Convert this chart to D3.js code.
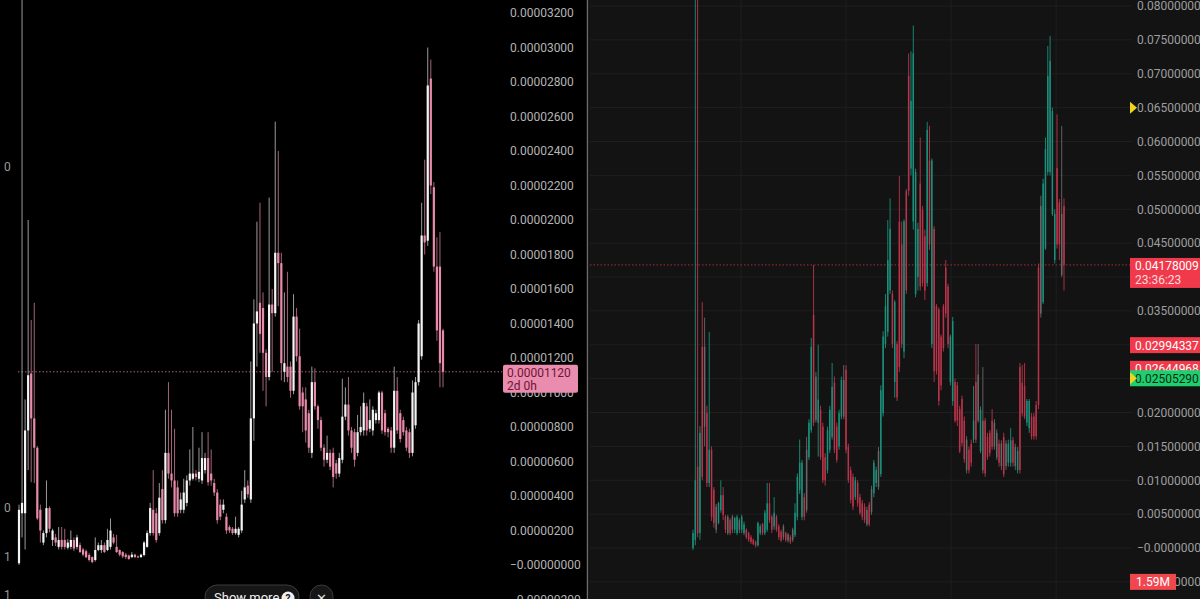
<!DOCTYPE html>
<html><head><meta charset="utf-8">
<script src="https://cdn.jsdelivr.net/npm/d3@7/dist/d3.min.js"></script>
<style>html,body{margin:0;padding:0;background:#000;overflow:hidden}svg{display:block}</style>
</head><body><svg id="c" width="1200" height="599"></svg>
<script>
// ---------- LEFT PANEL (prices in units of 1e-6) ----------
const leftTickValues = [32,30,28,26,24,22,20,18,16,14,12,10,8,6,4,2,0,-2];
const leftTickLabels = ["0.00003200","0.00003000","0.00002800","0.00002600","0.00002400","0.00002200","0.00002000","0.00001800","0.00001600","0.00001400","0.00001200","0.00001000","0.00000800","0.00000600","0.00000400","0.00000200","\u22120.00000000","\u22120.00000200"];
// [open, high, low, close]
const leftOHLC = [
[0.1,3.5,0.0,3.2],[3.0,40,1.6,3.6],[3.0,9.6,0.9,7.8],[7.8,20.0,5.5,11.0],[11.1,14.2,4.8,8.5],
[8.5,15.2,4.75,6.8],[6.8,6.9,2.6,2.7],[3.2,3.5,1.3,2.0],[1.3,2.0,1.15,1.85],[1.85,4.9,1.6,3.3],
[3.3,3.4,1.9,2.1],[1.45,2.1,1.1,2.0],[1.6,1.8,1.1,1.3],[1.05,2.2,0.9,1.45],[1.45,2.2,0.9,1.05],
[1.45,2.1,0.9,1.05],[1.0,1.5,0.9,1.3],[1.05,2.0,0.9,1.45],[1.45,1.6,0.8,0.95],[1.05,1.75,0.9,1.6],
[1.15,1.3,0.7,0.75],[0.9,1.0,0.5,0.6],[0.8,0.9,0.4,0.45],[0.58,0.7,0.2,0.29],[0.46,0.5,0.1,0.17],
[0.29,1.6,0.2,0.87],[0.87,1.3,0.8,1.15],[0.87,1.45,0.7,1.15],[1.15,1.3,0.7,0.75],[0.87,2.1,0.8,1.45],
[1.05,2.7,0.9,2.0],[1.6,1.8,1.2,1.3],[1.05,1.75,0.7,0.75],[0.87,0.9,0.5,0.6],[0.75,0.8,0.4,0.5],
[0.6,0.7,0.35,0.46],[0.55,0.6,0.3,0.35],[0.46,0.75,0.4,0.6],[0.6,0.65,0.4,0.46],[0.5,0.55,0.4,0.44],
[0.46,0.65,0.4,0.6],[0.58,1.4,0.5,1.3],[1.05,2.0,1.0,1.85],[1.85,3.6,1.7,3.3],[3.2,5.5,1.7,1.85],
[3.0,3.3,1.3,1.45],[1.85,4.75,1.7,3.9],[4.4,5.5,2.4,2.6],[2.6,9.0,2.4,6.5],[6.5,10.6,5.0,5.3],
[5.3,9.0,4.5,4.9],[4.9,7.9,2.8,3.0],[4.5,4.9,2.8,3.0],[3.2,4.2,3.0,3.8],[3.2,5.0,3.0,4.2],
[3.6,5.2,3.4,4.9],[4.9,6.7,4.6,5.3],[5.0,8.0,4.9,5.3],[5.3,5.5,4.9,5.1],[5.0,6.8,4.8,5.4],
[4.9,7.7,4.7,6.2],[5.5,6.5,5.3,6.2],[6.2,7.7,4.6,4.8],[5.3,6.7,4.6,4.9],[4.75,5.0,4.0,4.2],
[4.2,4.4,2.4,2.6],[3.5,3.8,2.6,2.8],[3.2,3.8,3.0,3.5],[2.8,3.0,1.8,2.0],[2.2,2.3,1.85,2.0],
[2.1,2.2,1.75,1.85],[1.85,2.8,1.75,2.1],[1.75,2.2,1.6,2.1],[2.0,4.3,1.85,3.5],[3.8,5.5,3.6,4.5],
[4.6,4.9,3.9,4.1],[3.8,11.8,3.6,8.5],[8.5,15.4,7.2,14.0],[14.0,19.9,11.5,14.7],[15.2,21.0,12.3,13.4],
[14.9,15.8,10.1,12.3],[12.3,12.5,9.2,10.9],[10.9,21.3,10.7,15.1],[15.1,16.0,11.2,14.6],[14.6,25.7,14.4,18.1],
[18.1,24.0,15.0,17.5],[17.5,18.1,10.7,11.7],[11.2,15.8,10.6,11.7],[11.5,17.0,10.6,10.9],[11.5,11.8,9.7,10.1],
[10.1,15.7,9.9,14.4],[14.4,14.9,11.8,12.1],[12.1,13.7,9.0,9.2],[10.0,10.3,7.7,9.2],[9.6,10.3,7.1,7.8],
[8.8,9.0,6.5,6.8],[6.5,11.5,6.2,10.6],[10.6,11.4,9.0,9.2],[9.2,9.3,7.9,8.4],[8.4,8.6,6.6,6.8],
[6.8,7.0,5.7,6.1],[6.1,7.5,5.9,6.5],[6.5,6.7,5.5,5.7],[6.5,6.8,4.5,5.1],[5.9,6.1,5.0,5.3],
[5.3,6.5,5.1,6.2],[6.1,10.8,5.9,8.6],[8.6,10.3,8.4,9.3],[9.3,10.9,7.5,7.8],[7.8,8.0,6.5,6.8],
[7.7,7.9,5.7,6.1],[6.5,8.7,6.3,7.7],[7.7,9.2,7.5,8.0],[7.8,10.0,7.5,9.4],[9.2,9.4,7.5,7.8],
[7.9,9.6,7.7,8.4],[7.8,9.2,7.5,9.0],[8.4,9.0,8.2,8.8],[8.4,10.1,8.2,10.0],[10.0,10.1,7.6,7.8],
[8.8,9.0,7.5,7.7],[7.9,8.0,7.4,7.7],[7.8,8.0,6.5,6.8],[6.8,11.5,6.5,10.1],[10.1,10.9,7.6,7.8],
[8.8,9.0,7.1,7.3],[8.4,8.6,7.5,7.7],[7.8,8.0,6.6,6.8],[7.7,7.9,6.2,6.5],[6.5,10.7,6.3,10.0],
[8.1,10.9,7.9,10.6],[10.6,14.2,10.4,14.0],[12.1,21.0,11.9,19.1],[19.1,23.5,18.0,18.7],[18.8,30.0,18.5,27.8],
[28.2,29.3,21.5,22.0],[21.9,22.2,17.0,17.3],[17.3,19.0,13.0,13.6],[17.3,19.3,10.3,11.7],[13.6,13.7,10.3,11.2]
];
const leftLastPrice = 11.2;
const leftLastLabel = ["0.00001120","2d 0h"];
const leftEdgeLabels = [{t:"0",v:23.1},{t:"0",v:3.3},{t:"1",v:0.5},{t:"1",v:-1.7}];

// ---------- RIGHT PANEL (prices in units of 1e-3) ----------
const rightTickValues = [80,75,70,65,60,55,50,45,40,35,30,25,20,15,10,5,0,-5];
const rightTickLabels = ["0.08000000","0.07500000","0.07000000","0.06500000","0.06000000","0.05500000","0.05000000","0.04500000","0.04000000","0.03500000","0.03000000","0.02500000","0.02000000","0.01500000","0.01000000","0.00500000","\u22120.00000000","\u22120.00500000"];
// tone: g = up (green), r = down (red), n = neutral (grey)
const rightTone = "ggrgrnrgrrnggrrnrnggnggrrrrrggrggrrgrrrnrnrnggggrnggrngrrrgggrrggnrrrrgrrrrnrnggngggggrgrrrgrrggggrrrgrgrrrrrrrggrrrrrnrrgrngnrrrrnnrnrnggrngrrrggrrrrnggggggrrnrnrr";
const rightOHLC = [
[0.0,2.7,-0.3,2.2],[1.2,95,0.4,10.0],[12,95,1.6,2.2],[2.2,18,1.2,17.0],[29.7,36.3,10.0,10.5],
[29.7,34,15,17.9],[19.9,21,9.0,9.6],[9.6,31.9,9.0,14.5],[14.5,15,4.0,4.6],[8.6,9.0,3.0,3.7],
[2.7,6.5,2.2,6.1],[3.7,6.8,3.5,6.6],[5.6,10.0,5.2,7.8],[7.8,9.0,4.1,4.9],[4.6,4.9,2.2,2.7],
[4.6,4.9,1.9,2.2],[4.1,4.4,1.9,2.2],[2.7,4.9,2.2,4.6],[2.7,4.6,2.2,4.4],[4.6,4.9,1.9,2.2],
[2.7,4.4,2.2,4.1],[2.7,4.9,2.2,4.6],[2.2,3.9,1.9,3.5],[2.7,2.9,1.3,1.6],[2.2,2.4,0.9,1.2],
[1.6,1.9,0.6,0.9],[1.2,1.4,0.4,0.6],[0.9,1.1,0.1,0.4],[0.4,3.9,0.2,3.7],[2.2,3.5,1.9,3.2],
[3.5,3.7,1.9,2.2],[2.2,5.6,1.9,5.2],[2.7,9.6,2.4,6.6],[6.6,9.6,3.7,4.1],[4.6,4.9,2.2,2.7],
[3.2,7.5,2.7,5.2],[4.6,4.9,2.4,2.7],[3.2,3.5,1.2,1.6],[2.4,2.7,0.9,1.1],[1.6,3.5,1.2,3.2],
[2.2,2.4,0.9,1.2],[2.0,2.2,0.8,1.1],[1.6,1.9,0.6,0.9],[1.2,3.0,0.9,2.7],[1.9,6.6,1.6,5.2],
[4.6,11,4.1,10.5],[8.6,16.0,8.0,12.6],[12.6,13.0,4.1,4.6],[7.5,8.1,4.1,4.6],[5.6,16.4,5.2,14.5],
[13.4,19,13.0,18.5],[17.4,31,17.0,29.7],[34.4,41.8,18.0,18.5],[25.3,26,18.5,18.9],[18.5,30.0,13.5,21.9],
[20.4,21,13.0,13.4],[17.9,18.5,9.6,10.0],[13.4,14,9.2,10.0],[11.5,17.9,11.0,17.4],[14.5,21,14,20.4],
[16.4,27.3,16,23.8],[24.4,25.3,14,14.5],[17.9,18.5,12.6,13.0],[15.0,20.4,14.5,19.9],[19.4,25.3,19,24.8],
[24.8,27.0,19,19.4],[26.3,27.0,14,14.5],[14.9,15.4,9.6,10.0],[11.5,12,6.6,7.1],[10.5,11,5.6,6.1],
[7.5,10.5,7.1,10.0],[9.6,10,6.1,6.6],[7.5,8.0,4.9,5.2],[6.6,7.1,4.1,4.6],[6.1,6.6,3.7,4.1],
[5.6,6.1,3.2,3.5],[3.5,6.8,3.2,6.4],[5.3,9.2,4.9,8.7],[8.1,13.0,7.5,12.6],[11.5,12,9.0,9.6],
[9.0,14.9,8.6,14.3],[10.9,24,10.5,23.3],[19.9,32,19.4,31.2],[30.1,37.5,29.5,35.7],[42.5,48.4,31.2,31.9],
[38.0,51.6,37.5,47.1],[37.5,38.0,29.5,30.1],[36.3,36.6,22.2,24.5],[30.1,30.5,21.7,22.2],[26.7,54.9,26,48.2],
[44.8,48.2,29.5,30.1],[48.2,48.5,28,29.0],[38.0,53,37.5,52.7],[52.7,73.0,52,69.7],[56,73.3,55,66],
[73.0,77.1,47,48.2],[55.5,56,37,37.5],[47.1,48,38,40.0],[38.6,60.6,38,53.8],[49.9,50.5,38.6,39.1],
[38.0,47,36.6,46],[39.1,62.9,38.6,61.7],[57.2,62.3,44,44.8],[57.2,57.5,29.5,30.1],[47.1,47.5,24.5,26.1],
[35.7,36,25.6,26.1],[35.2,35.5,21,21.7],[31.2,31.5,23.3,24.0],[29.5,36,29,35.7],[34.6,42.5,34,41.4],
[38.6,39,29.5,30.1],[31.2,31.5,24,24.5],[33.5,34.1,21,21.7],[24.5,25,18.5,18.8],[24.0,24.5,18,18.8],
[20.5,21,14,14.3],[22.0,22.5,15,15.5],[18.8,19.4,12.6,13.1],[11.5,16.5,11,16.0],[14.5,15,11,11.5],
[12.6,16,12,15.4],[16.0,23.9,15.5,18.8],[16.0,30.1,15.5,24.5],[25.6,30.1,18.5,18.8],[20.4,20.9,14,14.3],
[18.8,26.7,11,11.5],[18.8,19.2,10.5,11.0],[16.4,17,13,13.4],[14.0,17.4,13.5,17.0],[18.8,20.5,14.5,14.9],
[15.0,19,14.5,18.5],[17.0,17.5,13,13.4],[12.6,16,12,15.4],[12.1,15.9,11.5,15.4],[10.9,17,10.5,16.4],
[15.4,15.9,11.5,12.1],[12.6,16,12,15.4],[12.6,17.7,12,15.9],[15.9,16.4,12,12.6],[14.9,15.4,11.5,12.1],
[14.3,14.9,11,11.5],[11.5,27.3,11,26.7],[19.9,27.0,19.4,24.4],[23.9,27.3,19,19.4],[21.7,22,18,18.5],
[21.7,22,17,17.7],[19.4,19.9,16,16.4],[19.4,19.9,16,16.5],[16.5,21.7,16,21.1],[21.1,42,20.5,41.4],
[34.6,52,34,50.5],[36.3,54.5,36,53.8],[44.2,60.6,44,58.9],[55.5,74.1,55,69.7],[71.9,75.6,55,55.5],
[64.5,65,49,49.3],[49.3,50,42,42.5],[56.1,64.0,44.2,44.8],[44.8,51.5,42.5,51.0],[49.3,62.3,40.0,40.3],
[50.5,51.6,38.0,41.78]
];
const rightLastPrice = 41.78;
const rightLastLabel = ["0.04178009","23:36:23"];
const rightMarkerValues = [29.94337, 26.44968, 25.05290];
const rightMarkerLabels = ["0.02994337","0.02644968","0.02505290"];
const rightMarkerTones = ["r","r","g"];
const volumeLabel = "1.59M";
const flagValues = [65, 25.05290];
const timeGridIdx = [20.7, 66, 111.3, 156.6];

// ---------- DRAW ----------
const svg = d3.select("#c");
const FONT = "Roboto, 'Liberation Sans', Arial, sans-serif";

svg.append("rect").attr("x",0).attr("y",0).attr("width",588).attr("height",599).attr("fill","#000");
svg.append("rect").attr("x",589).attr("y",0).attr("width",611).attr("height",599).attr("fill","#131313");
svg.append("line").attr("x1",587.5).attr("x2",587.5).attr("y1",0).attr("y2",599).attr("stroke","#6a6a6a").attr("stroke-width",1.5);

const defs = svg.append("defs");
defs.append("clipPath").attr("id","clipL").append("rect").attr("x",0).attr("y",0).attr("width",500).attr("height",599);
defs.append("clipPath").attr("id","clipR").append("rect").attr("x",590).attr("y",0).attr("width",540).attr("height",599);

// LEFT scales
const yL = d3.scaleLinear().domain([0, 32]).range([565, 13]);
const xL = d3.scaleLinear().domain([0, leftOHLC.length-1]).range([19, 443]);

svg.append("line").attr("x1",18).attr("x2",502).attr("y1",yL(leftLastPrice)).attr("y2",yL(leftLastPrice))
  .attr("stroke","#c8728f").attr("stroke-width",1).attr("stroke-dasharray","1.5,2").attr("opacity",0.85);

const gL = svg.append("g").attr("clip-path","url(#clipL)");
leftOHLC.forEach((d,i)=>{
  const up = d[3] >= d[0];
  const x = xL(i);
  gL.append("line").attr("x1",x).attr("x2",x).attr("y1",yL(d[1])).attr("y2",yL(d[2]))
    .attr("stroke", up ? "#9a9a9a" : "#a4647c").attr("stroke-width",1);
  const top = yL(Math.max(d[0],d[3])), bot = yL(Math.min(d[0],d[3]));
  gL.append("rect").attr("x",x-1.1).attr("width",2.2).attr("y",top).attr("height",Math.max(1,bot-top))
    .attr("fill", up ? "#f4f4f4" : "#e88aa9");
});

const axL = svg.append("g").attr("transform","translate(510,0)")
  .call(d3.axisRight(yL).tickValues(leftTickValues).tickFormat((d,i)=>leftTickLabels[i]).tickSize(0).tickPadding(0));
axL.select(".domain").remove();
axL.selectAll("text").attr("fill","#b4b4b4").style("font-family",FONT).style("font-size","12px");

leftEdgeLabels.forEach(l=>{
  svg.append("text").attr("x",4).attr("y",yL(l.v)).attr("dy","0.35em").attr("fill","#9a9a9a")
    .style("font-family",FONT).style("font-size","12px").text(l.t);
});

{
  const yv = yL(leftLastPrice);
  svg.append("rect").attr("x",503).attr("y",yv-7).attr("width",75).attr("height",28).attr("rx",2).attr("fill","#ea8cad");
  svg.append("text").attr("x",507).attr("y",yv+5).attr("fill","#6d1536").style("font-family",FONT).style("font-size","12px").text(leftLastLabel[0]);
  svg.append("text").attr("x",507).attr("y",yv+18).attr("fill","#6d1536").style("font-family",FONT).style("font-size","12px").text(leftLastLabel[1]);
}

svg.append("rect").attr("x",205).attr("y",585).attr("width",94).attr("height",24).attr("rx",12).attr("fill","#161616").attr("stroke","#3c3c3c");
svg.append("text").attr("x",214).attr("y",602).attr("fill","#f0f0f0").style("font-family",FONT).style("font-size","13px").text("Show more");
svg.append("circle").attr("cx",288).attr("cy",598).attr("r",6.5).attr("fill","#f0f0f0");
svg.append("text").attr("x",288).attr("y",602).attr("text-anchor","middle").attr("fill","#161616").style("font-family",FONT).style("font-size","10px").style("font-weight","bold").text("?");
svg.append("rect").attr("x",310).attr("y",585).attr("width",23).attr("height",24).attr("rx",11.5).attr("fill","#161616").attr("stroke","#3c3c3c");
svg.append("text").attr("x",321.5).attr("y",603).attr("text-anchor","middle").attr("fill","#e0e0e0").style("font-family",FONT).style("font-size","13px").text("\u2715");

// RIGHT scales
const yR = d3.scaleLinear().domain([0, 80]).range([548, 6]);
const xR = d3.scaleLinear().domain([0, rightOHLC.length-1]).range([693, 1064]);

const gridR = svg.append("g");
rightTickValues.forEach(v=>{
  gridR.append("line").attr("x1",590).attr("x2",1132).attr("y1",yR(v)).attr("y2",yR(v)).attr("stroke","#1f1f1f").attr("stroke-width",1);
});
timeGridIdx.forEach(i=>{
  gridR.append("line").attr("x1",xR(i)).attr("x2",xR(i)).attr("y1",0).attr("y2",599).attr("stroke","#1f1f1f").attr("stroke-width",1);
});

svg.append("line").attr("x1",590).attr("x2",1132).attr("y1",yR(rightLastPrice)).attr("y2",yR(rightLastPrice))
  .attr("stroke","#b8323f").attr("stroke-width",1).attr("stroke-dasharray","1.5,2").attr("opacity",0.9);

const toneColor = {g:"#1b8f7b", r:"#b8344a", n:"#686868"};
const gR = svg.append("g").attr("clip-path","url(#clipR)");
rightOHLC.forEach((d,i)=>{
  const c = toneColor[rightTone[i]];
  const x = xR(i);
  gR.append("line").attr("x1",x).attr("x2",x).attr("y1",yR(d[1])).attr("y2",yR(d[2])).attr("stroke",c).attr("stroke-width",0.9);
  const top = yR(Math.max(d[0],d[3])), bot = yR(Math.min(d[0],d[3]));
  gR.append("rect").attr("x",x-0.75).attr("width",1.5).attr("y",top).attr("height",Math.max(1,bot-top)).attr("fill",c);
});

const axR = svg.append("g").attr("transform","translate(1137,0)")
  .call(d3.axisRight(yR).tickValues(rightTickValues).tickFormat((d,i)=>rightTickLabels[i]).tickSize(0).tickPadding(0));
axR.select(".domain").remove();
axR.selectAll("text").attr("fill","#9e9e9e").style("font-family",FONT).style("font-size","12px");

{
  const yv = yR(rightLastPrice);
  svg.append("rect").attr("x",1130).attr("y",yv-7).attr("width",72).attr("height",30).attr("fill","#f0394b");
  svg.append("text").attr("x",1135).attr("y",yv+5).attr("fill","#fff").style("font-family",FONT).style("font-size","12px").text(rightLastLabel[0]);
  svg.append("text").attr("x",1135).attr("y",yv+19).attr("fill","#ffd9dd").style("font-family",FONT).style("font-size","12px").text(rightLastLabel[1]);
}
rightMarkerValues.forEach((v,i)=>{
  const yv = yR(v);
  const g = rightMarkerTones[i]==="g";
  svg.append("rect").attr("x",1130).attr("y",yv-8).attr("width",72).attr("height",16).attr("fill", g ? "#1fcf6e" : "#f0394b");
  svg.append("text").attr("x",1135).attr("y",yv+4.5).attr("fill", g ? "#0b2a16" : "#fff").style("font-family",FONT).style("font-size","12px").text(rightMarkerLabels[i]);
});
{
  const yv = yR(-5);
  svg.append("rect").attr("x",1130).attr("y",yv-8).attr("width",46).attr("height",16).attr("fill","#f0474f");
  svg.append("text").attr("x",1153).attr("y",yv+4.5).attr("text-anchor","middle").attr("fill","#fff").style("font-family",FONT).style("font-size","12px").text(volumeLabel);
}
flagValues.forEach(v=>{
  const yv = yR(v);
  svg.append("path").attr("d",`M1130,${yv-6}L1137,${yv}L1130,${yv+6}Z`).attr("fill","#f2d41c");
});
</script></body></html>
